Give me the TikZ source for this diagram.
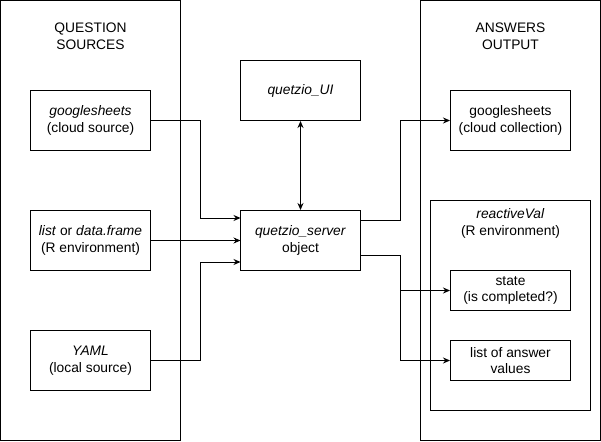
\documentclass[tikz,border=0pt]{standalone}
\usepackage{fontspec}
\setmainfont{Liberation Sans}
\usetikzlibrary{arrows.meta}
\begin{document}
\begin{tikzpicture}[x=1pt,y=-1pt,
  box/.style={draw,line width=1pt,minimum width=120pt,minimum height=60pt,inner sep=0pt,align=center,font=\fontsize{13.8}{16.5}\selectfont},
  panel/.style={draw,line width=1pt,inner sep=0pt},
  lbl/.style={align=center,font=\fontsize{13.8}{16.5}\selectfont},
  conn/.style={line width=1pt,-{Stealth[length=7pt,width=6pt]}}]
\useasboundingbox (0,0) rectangle (601,441);
% panels
\node[panel,minimum width=180pt,minimum height=440pt] (left) at (90.5,220.5) {};
\node[panel,minimum width=180pt,minimum height=440pt] (right) at (510.5,220.5) {};
\node[lbl] (ltitle) at (90.5,36.5) {QUESTION\\SOURCES};
\node[lbl] (rtitle) at (510.5,36.5) {ANSWERS\\OUTPUT};
% left boxes
\node[box] (gs) at (90.5,120.5) {\textit{googlesheets}\\(cloud source)};
\node[box] (lst) at (90.5,240.5) {\textit{list} or \textit{data.frame}\\(R environment)};
\node[box] (yaml) at (90.5,360.5) {\textit{YAML}\\(local source)};
% center
\node[box] (ui) at (300.5,90.5) {\textit{quetzio\_UI}};
\node[box] (srv) at (300.5,240.5) {\textit{quetzio\_server}\\object};
% right
\node[box] (gsc) at (510.5,120.5) {googlesheets\\(cloud collection)};
\node[panel,minimum width=160pt,minimum height=210pt] (rv) at (510.5,305.5) {};
\node[lbl,anchor=north] (rvt) at (510.5,205) {\textit{reactiveVal}\\(R environment)};
\node[box,minimum height=40pt] (state) at (510.5,290.5) {state\\(is completed?)};
\node[box,minimum height=40pt] (vals) at (510.5,360.5) {list of answer\\values};
% connectors
\coordinate (s1) at (240.5,218);
\coordinate (s2) at (240.5,240.5);
\coordinate (s3) at (240.5,262);
\draw[conn] (gs.east) -| (200.5,218) -- (s1);
\draw[conn] (lst.east) -- (s2);
\draw[conn] (yaml.east) -| (200.5,262) -- (s3);
\draw[line width=1pt,{Stealth[length=7pt,width=6pt]}-{Stealth[length=7pt,width=6pt]}] (ui.south) -- (srv.north);
\coordinate (o1) at (360.5,220.5);
\coordinate (o2) at (360.5,255.5);
\draw[conn] (o1) -| (400.5,120.5) -- (gsc.west);
\draw[conn] (o2) -| (400.5,290.5) -- (state.west);
\draw[conn] (o2) -| (400.5,360.5) -- (vals.west);
\end{tikzpicture}
\end{document}
